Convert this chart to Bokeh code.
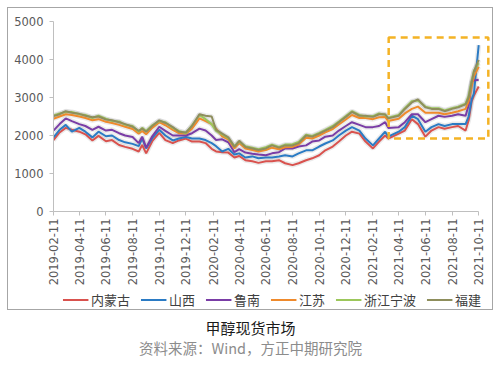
import math
import pandas as pd
from bokeh.plotting import figure
from bokeh.models import Legend, LegendItem, FixedTicker, Label, Range1d
from bokeh.layouts import column
from bokeh.embed import file_html
from bokeh.resources import INLINE

dates = ["2019-02-11", "2019-02-25", "2019-03-11", "2019-03-25", "2019-04-11", "2019-04-25",
         "2019-05-11", "2019-05-25", "2019-06-11", "2019-06-25", "2019-07-11", "2019-07-25",
         "2019-08-11", "2019-08-25", "2019-09-02", "2019-09-11", "2019-09-25", "2019-10-11",
         "2019-10-25", "2019-11-11", "2019-11-25", "2019-12-11", "2019-12-25",
         "2020-01-11", "2020-01-25", "2020-02-08", "2020-02-18", "2020-03-03", "2020-03-17",
         "2020-03-31", "2020-04-11", "2020-04-25", "2020-05-11", "2020-05-25", "2020-06-11",
         "2020-06-25", "2020-07-11", "2020-07-25", "2020-08-11", "2020-08-25", "2020-09-11",
         "2020-09-25", "2020-10-11", "2020-10-25", "2020-11-11", "2020-11-25", "2020-12-11",
         "2020-12-25",
         "2021-01-11", "2021-01-25", "2021-02-11", "2021-02-25", "2021-03-11", "2021-03-18",
         "2021-04-11", "2021-04-25", "2021-05-11", "2021-05-25", "2021-06-11", "2021-06-25",
         "2021-07-11", "2021-07-25", "2021-08-11", "2021-08-25", "2021-09-11", "2021-09-18",
         "2021-09-25", "2021-09-30", "2021-10-11"]

neimenggu = [1880, 2080, 2200, 2150, 2100, 2030, 1870, 1990, 1850, 1880, 1750, 1700, 1650, 1580, 1750, 1530, 1850, 2070, 1880, 1800, 1870, 1920, 1840,
             1840, 1800, 1650, 1580, 1560, 1550, 1420, 1460, 1350, 1320, 1280, 1320, 1320, 1350, 1270, 1220, 1270, 1350, 1400, 1480, 1610, 1710, 1840, 2000, 2100,
             2050, 1840, 1660, 1840, 2000, 1920, 2050, 2130, 2430, 2300, 1970, 2130, 2220, 2180, 2220, 2250, 2130, 2400, 2900, 3050, 3290]
shanxi = [1950, 2150, 2280, 2100, 2200, 2100, 1950, 2100, 1980, 2000, 1880, 1820, 1780, 1720, 1920, 1660, 1930, 2150, 2000, 1870, 1920, 1960, 1920,
          1920, 1880, 1800, 1720, 1580, 1650, 1500, 1530, 1420, 1450, 1400, 1420, 1420, 1450, 1480, 1450, 1530, 1610, 1610, 1710, 1790, 1870, 2000, 2130, 2220,
          2130, 1920, 1740, 1920, 2100, 1970, 2100, 2220, 2520, 2430, 2100, 2220, 2300, 2250, 2300, 2300, 2300, 2500, 2950, 3100, 4380]
lunan = [2130, 2300, 2450, 2380, 2300, 2250, 2150, 2230, 2130, 2150, 2060, 2000, 1960, 1800, 1970, 1680, 1980, 2230, 2120, 2000, 2000, 2000, 2060,
         2180, 2130, 2000, 1880, 1900, 1820, 1560, 1640, 1550, 1520, 1500, 1480, 1530, 1560, 1660, 1660, 1710, 1740, 1840, 1870, 1970, 2000, 2130, 2250, 2350,
         2280, 2220, 2220, 2250, 2350, 2200, 2220, 2350, 2560, 2560, 2350, 2430, 2520, 2490, 2520, 2560, 2520, 2800, 3420, 3450, 3470]
jiangsu = [2440, 2500, 2560, 2540, 2500, 2460, 2400, 2430, 2360, 2330, 2280, 2230, 2170, 2050, 2120, 2030, 2200, 2350, 2270, 2150, 2060, 2050, 2180,
           2450, 2380, 2300, 2180, 1980, 1900, 1660, 1800, 1660, 1620, 1580, 1620, 1680, 1640, 1690, 1700, 1760, 1940, 1920, 2000, 2080, 2170, 2290, 2420, 2540,
           2460, 2460, 2430, 2480, 2490, 2380, 2440, 2580, 2700, 2760, 2600, 2600, 2600, 2560, 2600, 2640, 2700, 2900, 3300, 3550, 3810]
zhejiang_ningbo = [2530, 2580, 2620, 2620, 2560, 2540, 2460, 2520, 2440, 2380, 2370, 2280, 2250, 2100, 2200, 2120, 2270, 2380, 2350, 2200, 2120, 2060, 2270,
                   2540, 2430, 2300, 2120, 2030, 1930, 1720, 1840, 1720, 1680, 1640, 1690, 1760, 1700, 1760, 1770, 1830, 2020, 1990, 2070, 2150, 2250, 2370, 2510, 2640,
                   2540, 2500, 2510, 2580, 2540, 2470, 2540, 2720, 2900, 2920, 2760, 2720, 2720, 2660, 2720, 2760, 2840, 3050, 3450, 3700, 3900]
fujian = [2510, 2560, 2640, 2600, 2570, 2520, 2480, 2500, 2420, 2400, 2350, 2300, 2230, 2120, 2180, 2100, 2250, 2400, 2330, 2220, 2100, 2080, 2250,
          2560, 2520, 2500, 2150, 2050, 1950, 1700, 1860, 1700, 1660, 1620, 1660, 1740, 1680, 1740, 1740, 1800, 2000, 1970, 2050, 2130, 2220, 2350, 2490, 2620,
          2520, 2520, 2490, 2560, 2560, 2450, 2520, 2700, 2870, 2950, 2740, 2700, 2700, 2640, 2700, 2740, 2820, 3000, 3400, 3680, 3990]

series_names = ["内蒙古", "山西", "鲁南", "江苏", "浙江宁波", "福建"]
series_values = [neimenggu, shanxi, lunan, jiangsu, zhejiang_ningbo, fujian]
series_colors = ["#D9524E", "#2B7BC4", "#7A3DA6", "#EF8A2C", "#9CC75B", "#8E8E5C"]

tick_labels = ["2019-02-11", "2019-04-11", "2019-06-11", "2019-08-11", "2019-10-11", "2019-12-11",
               "2020-02-11", "2020-04-11", "2020-06-11", "2020-08-11", "2020-10-11", "2020-12-11",
               "2021-02-11", "2021-04-11", "2021-06-11", "2021-08-11", "2021-10-11"]
y_ticks = [0, 1000, 2000, 3000, 4000, 5000]

box_dates = ["2021-03-19", "2021-11-02"]
box_values = [1920, 4580]

origin = pd.Timestamp(tick_labels[0])
def to_days(lst):
    return [int((pd.Timestamp(d) - origin).days) for d in lst]

xd = to_days(dates)
tick_days = to_days(tick_labels)
bx = to_days(box_dates)

FONT = "DejaVu Sans"
CJK = "Noto Sans CJK SC"

p = figure(width=486, height=281, output_backend="svg", toolbar_location=None,
           x_range=Range1d(0, 1000), y_range=Range1d(0, 5000),
           min_border_left=46, min_border_right=3, min_border_top=14, min_border_bottom=74)
p.xgrid.visible = False
p.ygrid.visible = False
p.outline_line_color = None
p.background_fill_alpha = 0
p.border_fill_alpha = 0

for ax in (p.xaxis[0], p.yaxis[0]):
    ax.axis_line_color = "#bfbfbf"
    ax.major_tick_line_color = "#bfbfbf"
    ax.minor_tick_line_color = None
    ax.major_tick_out = 4
    ax.major_tick_in = 0
    ax.major_label_text_font = FONT
    ax.major_label_text_font_size = "11.5px"
    ax.major_label_text_color = "#595959"

p.yaxis[0].ticker = FixedTicker(ticks=y_ticks)
p.yaxis[0].major_label_standoff = 6
p.xaxis[0].ticker = FixedTicker(ticks=tick_days)
p.xaxis[0].major_label_overrides = {d: lab for d, lab in zip(tick_days, tick_labels)}
p.xaxis[0].major_label_orientation = math.pi / 2
p.xaxis[0].major_label_standoff = 3
p.xaxis[0].bounds = (0, tick_days[-1])

# soft shadows
for vals in series_values:
    p.line(xd, vals, line_color="#000000", line_alpha=0.08, line_width=5)

for name, vals, col in zip(series_names, series_values, series_colors):
    p.line(xd, vals, line_color=col, line_width=2)

p.quad(left=[bx[0]], right=[bx[1]], bottom=[box_values[0]], top=[box_values[1]],
       fill_alpha=0, line_color="#F4B325", line_width=2.5, line_dash="7 5")

# legend strip (inside the bordered box); proxy lines lie outside its visible range
lg = figure(width=486, height=22, output_backend="svg", toolbar_location=None,
            x_range=Range1d(0, 1), y_range=Range1d(0, 1), min_border=0)
lg.axis.visible = False
lg.grid.visible = False
lg.outline_line_color = None
lg.background_fill_alpha = 0
lg.border_fill_alpha = 0
items = []
for name, col in zip(series_names, series_colors):
    r = lg.line([0, 1], [-10, -10], line_color=col, line_width=2)
    items.append(LegendItem(label=name, renderers=[r]))
legend = Legend(items=items, orientation="horizontal", location="center",
                glyph_width=26, glyph_height=12, label_standoff=3, spacing=10,
                padding=2, margin=0, border_line_color=None, background_fill_alpha=0,
                label_text_font=CJK, label_text_font_size="13px", label_text_color="#404040")
lg.add_layout(legend, "center")

box = column(p, lg, spacing=0, margin=(7, 7, 0, 7),
             styles={"outline": "1px solid #a6a6a6", "outline-offset": "-1px",
                     "background-color": "white"})

t = figure(width=500, height=58, output_backend="svg", toolbar_location=None,
           x_range=Range1d(0, 500), y_range=Range1d(0, 58), min_border=0)
t.axis.visible = False
t.grid.visible = False
t.outline_line_color = None
t.add_layout(Label(x=250, y=41, text="甲醇现货市场", text_align="center", text_baseline="middle",
                   text_font=CJK, text_font_size="15px", text_color="#1a1a1a"))
t.add_layout(Label(x=250, y=21, text="资料来源：Wind，方正中期研究院", text_align="center",
                   text_baseline="middle", text_font=CJK, text_font_size="14.5px", text_color="#8c8c8c"))

layout = column(box, t, spacing=0)
open("out.html", "w").write(file_html(layout, INLINE))
